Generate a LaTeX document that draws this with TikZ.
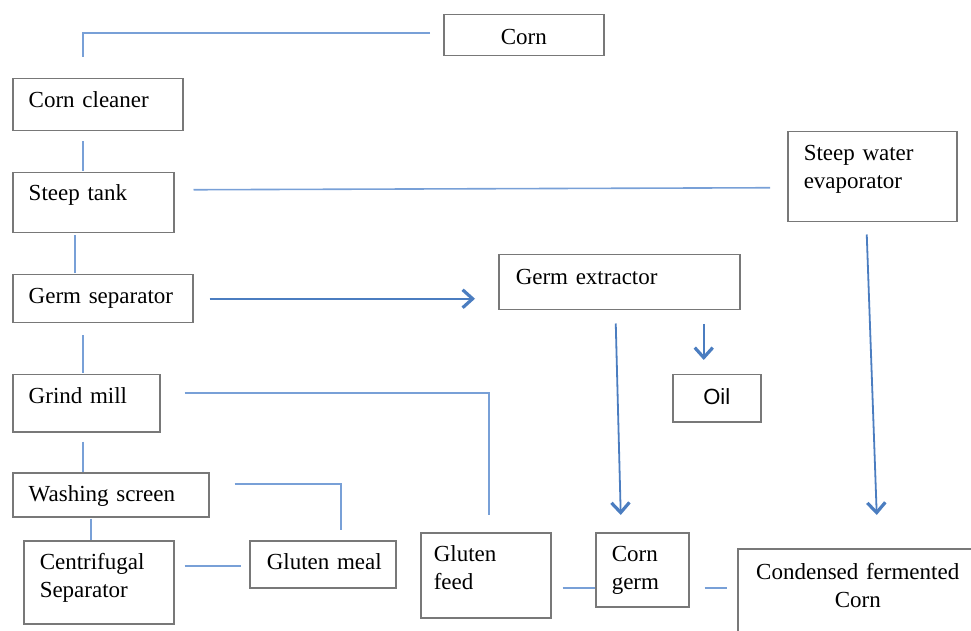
\documentclass[tikz,border=0pt]{standalone}
\usepackage{fontspec}
\setmainfont{Liberation Serif}
\newfontfamily\oilfont{Liberation Sans}
\usepackage{xcolor}
\usetikzlibrary{
	arrows.meta,
	positioning,
	calc
}
\definecolor{boxgray}{RGB}{120,120,120}
\definecolor{lineblue}{RGB}{120,160,215}
\definecolor{arrowblue}{RGB}{75,125,192}

\begin{document}
\begin{tikzpicture}[x=0.5pt,y=-0.5pt,
		>={Straight Barb[length=5pt,width=9pt,line width=1.6pt]},
		stage/.style={draw=boxgray,line width=0.75pt,anchor=north west,inner ysep=0pt,inner xsep=8pt,align=left,font=\fontsize{11.5}{13.75}\selectfont},
		link/.style={draw=lineblue,line width=0.8pt},
		flow/.style={draw=arrowblue,line width=0.9pt,->}]
	
	\useasboundingbox (0,0) rectangle (971,631);
	\clip (0,0) rectangle (971,631);
	
	% main line on the left
	\node[stage,text width=80pt,inner xsep=0pt,align=center,text height=15pt,text depth=5.5pt] (corn) at (443,14) {Corn};
	\node[stage,text width=69pt,text height=14.5pt,text depth=11.5pt] (cleaner) at (12,78) {Corn cleaner};
	\node[stage,text width=64.5pt,text height=14pt,text depth=16pt] (steep) at (12,172) {Steep tank};
	\node[stage,text width=74pt,text height=14.5pt,text depth=9.5pt] (germsep) at (12,274) {Germ separator};
	\node[stage,text width=57.5pt,text height=14.5pt,text depth=14pt] (grind) at (12,374) {Grind mill};
	\node[stage,text width=82pt,text height=14.5pt,text depth=7.5pt] (wash) at (12,472) {Washing screen};
	\node[stage,text width=59pt,text height=14.5pt,text depth=27pt] (centri) at (23,540) {Centrifugal\\Separator};
	
	% products
	\node[stage,text width=60pt,inner xsep=6.5pt,text height=14.5pt,text depth=9pt] (meal) at (249,540) {\hspace{2pt}Gluten meal};
	\node[stage,text width=52pt,inner xsep=6.5pt,text height=14.5pt,text depth=28pt] (feed) at (420,532) {Gluten\\feed};
	\node[stage,text width=30.5pt,text height=14.5pt,text depth=22.5pt] (germ) at (595,532) {Corn\\germ};
	\node[stage,text width=120pt,inner xsep=0pt,align=center,text height=15.5pt,text depth=32pt] (cfc) at (737,548) {Condensed fermented\\Corn};
	\node[stage,text width=103.5pt,inner xsep=8.5pt,text height=15pt,text depth=12.5pt] (extract) at (498,254) {Germ extractor};
	\node[stage,text width=44pt,inner xsep=0pt,align=center,text height=15pt,text depth=8.5pt,font=\oilfont\fontsize{11}{13}\selectfont] (oil) at (672,374) {Oil};
	\node[stage,text width=68.5pt,text height=14.5pt,text depth=30.5pt] (evap) at (787,131) {Steep water\\evaporator};
	
	% connectors
	\draw[link] ($(corn.west)+(-13,-2.5)$) -| ($(cleaner.north)+(-15,-21)$);
	\draw[link] ($(cleaner.south)+(-15,10)$) -- ($(cleaner.south)+(-15,40)$);
	\draw[link] ($(steep.south)+(-18.5,2)$) -- ($(steep.south)+(-18.5,40)$);
	\draw[link] ($(germsep.south)+(-20,12)$) -- ($(germsep.south)+(-20,50)$);
	\draw[link] ($(grind.south)+(-3.5,9)$) -- ($(grind.south)+(-3.5,39)$);
	\draw[link] ($(wash.south)+(-20,1)$) -- ($(centri.north)+(-8,0)$);
	\draw[link] ($(steep.east)+(19,-13)$) -- ($(evap.west)+(-17,11)$);
	\draw[link] ($(grind.east)+(24,-10)$) -| ($(feed.north)+(3,-17)$);
	\draw[link] ($(wash.east)+(25,-10.5)$) -| ($(meal.north)+(18,-10)$);
	\draw[link] ($(centri.east)+(10,-16)$) -- ($(meal.west)+(-8,2)$);
	\draw[link] ($(feed.east)+(11,12.5)$) -- ($(germ.west)+(0,18)$);
	\draw[link] ($(germ.east)+(15,18)$) -- ($(cfc.west)+(-10,-8.5)$);
	
	\draw[flow] ($(germsep.east)+(16,0)$) -- ($(extract.west)+(-23,16.5)$);
	\draw[flow] ($(extract.south)+(-3.5,13)$) -- ($(germ.north)+(-21.5,-17)$);
	\draw[flow] ($(oil.north)+(-13,-50)$) -- ($(oil.north)+(-13,-14)$);
	\draw[flow] ($(evap.south)+(-5.5,12)$) -- ($(cfc.north)+(19,-33)$);
	
\end{tikzpicture}
\end{document}
